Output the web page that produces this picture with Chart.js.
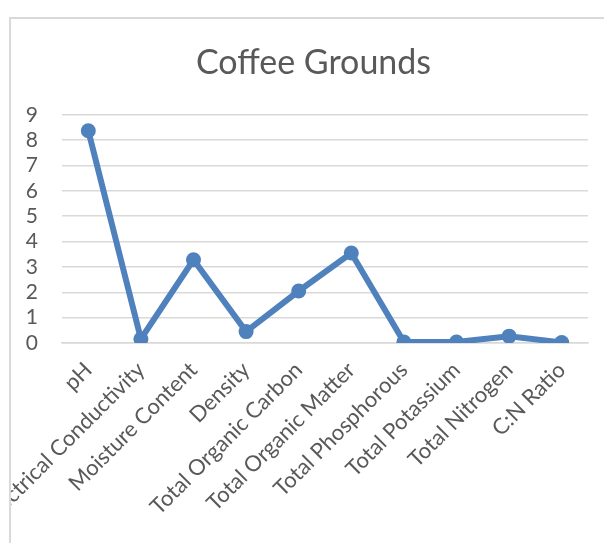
<!DOCTYPE html>
<html>
<head>
<meta charset="utf-8">
<script src="https://cdn.jsdelivr.net/npm/chart.js@4/dist/chart.umd.min.js"></script>
<style>
  html, body { margin: 0; padding: 0; background: #fff; width: 604px; height: 543px; overflow: hidden; }
  #frame { position: absolute; left: 9px; top: 17px; width: 595px; height: 526px;
           border-left: 2px solid #d9d9d9; border-top: 2px solid #d9d9d9; overflow: hidden; box-sizing: border-box; }
  #c { position: absolute; left: 0; top: 0; }
</style>
</head>
<body>
<div id="frame"><canvas id="c" width="605" height="524"></canvas></div>
<script>
const categories = ["pH", "Electrical Conductivity", "Moisture Content", "Density", "Total Organic Carbon",
  "Total Organic Matter", "Total Phosphorous", "Total Potassium", "Total Nitrogen", "C:N Ratio"];
const values = [8.37, 0.16, 3.28, 0.45, 2.05, 3.55, 0.04, 0.04, 0.27, 0.02];
const yTicks = [0, 1, 2, 3, 4, 5, 6, 7, 8, 9];
const titleText = "Coffee Grounds";

const FONT = "Lato, 'Liberation Sans', sans-serif";
const TXT = "#595959";
const BLUE = "#4f81bd";
const GRID = "#d9d9d9";

const shiftTitle = {
  id: 'shiftTitle',
  afterLayout(chart) {
    const b = chart.titleBlock;
    if (b) { b.left += 14; b.right += 14; }
  }
};

new Chart(document.getElementById('c'), {
  type: 'line',
  data: {
    labels: categories,
    datasets: [{
      data: values,
      borderColor: BLUE,
      backgroundColor: BLUE,
      borderWidth: 6,
      pointRadius: 7.5,
      pointHoverRadius: 7.5,
      pointBorderWidth: 0,
      tension: 0,
      fill: false
    }]
  },
  plugins: [shiftTitle],
  options: {
    responsive: false,
    animation: false,
    layout: { padding: { left: 0, right: 28, top: 0, bottom: 0 } },
    plugins: {
      legend: { display: false },
      tooltip: { enabled: false },
      title: {
        display: true,
        text: titleText,
        color: TXT,
        font: { family: FONT, size: 34, weight: 'normal', lineHeight: 1.2 },
        padding: { top: 24, bottom: 31 }
      }
    },
    scales: {
      x: {
        offset: true,
        grid: { display: false, drawTicks: false },
        border: { display: true, color: GRID, width: 1.5 },
        ticks: {
          autoSkip: false, maxRotation: 45, minRotation: 45,
          color: TXT, font: { family: FONT, size: 22 }, padding: 14
        },
        afterFit: (s) => { s.height = 200; s.paddingLeft = 0; s.paddingRight = 0; }
      },
      y: {
        min: 0, max: 9,
        afterBuildTicks: (s) => { s.ticks = yTicks.map(v => ({ value: v })); },
        grid: { color: GRID, lineWidth: 1.5, drawTicks: false },
        border: { display: false },
        ticks: { autoSkip: false, color: TXT, font: { family: FONT, size: 21 }, padding: 24 },
        afterFit: (s) => { s.width = 51; s.paddingTop = 0; s.paddingBottom = 0; }
      }
    }
  }
});
</script>
</body>
</html>
